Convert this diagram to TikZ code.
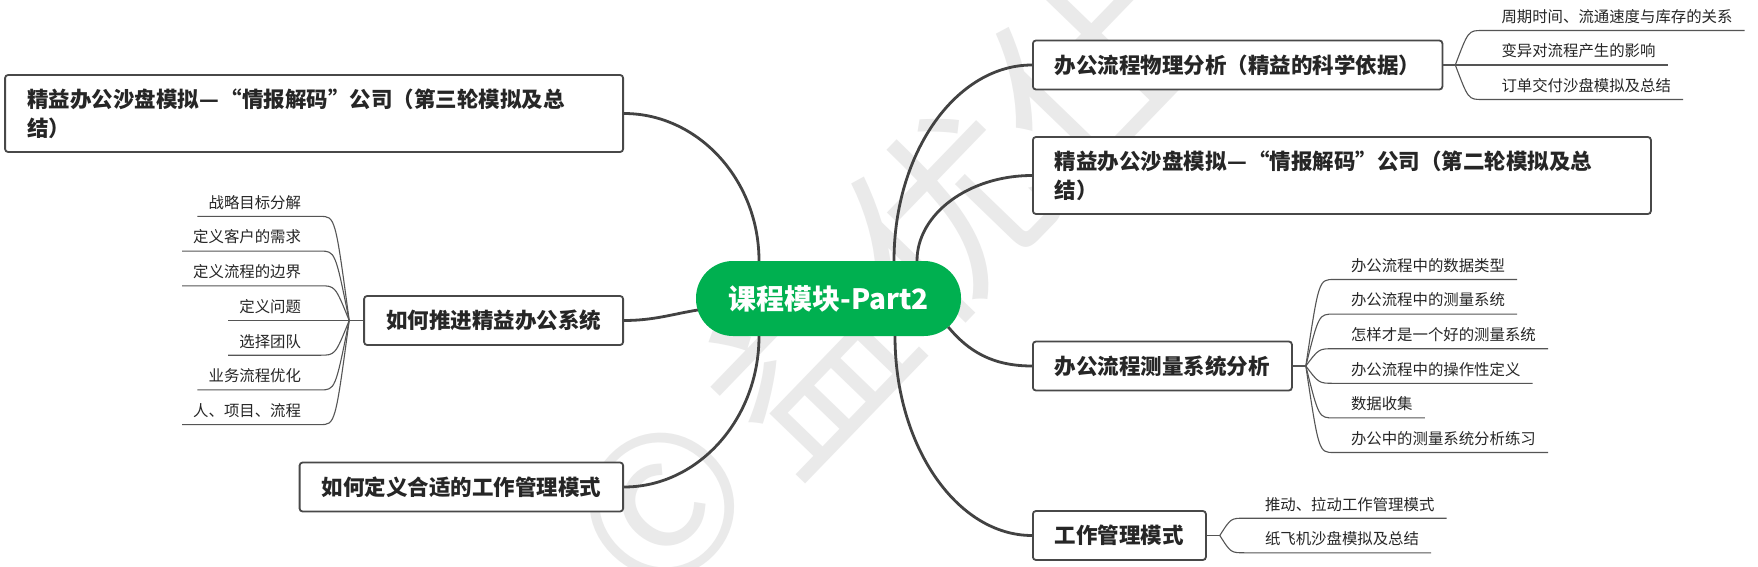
\documentclass[tikz,border=0pt]{standalone}
\usepackage{fontspec}
\usepackage{graphicx}
\setmainfont{Noto Sans CJK SC}
\usetikzlibrary{calc}
\definecolor{green1}{RGB}{0,176,80}
\definecolor{linec}{RGB}{66,66,66}
\definecolor{boxc}{RGB}{72,72,72}
\definecolor{txt}{RGB}{38,38,38}
\definecolor{subc}{RGB}{85,85,85}
\definecolor{wmc}{RGB}{234,234,234}
\newcommand{\wdash}{\makebox[1em]{\resizebox{0.92em}{\height}{—}}}
\begin{document}
\begin{tikzpicture}[x=1pt,y=-1pt,
  box/.style={draw=boxc, line width=1.8pt, rounded corners=3pt, fill=white,
    inner xsep=22pt, inner ysep=0pt, minimum height=49pt,
    font=\fontsize{21.5}{29}\selectfont\bfseries, text=txt, align=left},
  twoline/.style={minimum height=77pt, text width=574pt},
  sub/.style={font=\fontsize{15.4}{18}\selectfont, text=txt, inner xsep=0pt,
    inner ysep=5pt, text height=11pt, text depth=3pt},
  conn/.style={draw=linec, line width=2.8pt},
  subl/.style={draw=subc, line width=1.1pt},
  wmark/.style={text=wmc, rotate=46, inner sep=0pt, font=\fontsize{195}{195}\selectfont},
]
\useasboundingbox (0,0) rectangle (1758,567);
\fill[white] (0,0) rectangle (1758,567);

% watermark
\node[wmark] (w1) at (662,505) {©};
\node[wmark] (w2) at (805,360) {益};
\node[wmark] (w3) at (947,214) {优};
\node[wmark] (w4) at (1088,68) {仕};

% central topic
\node[fill=green1, rounded corners=37pt, minimum width=265pt, minimum height=75pt,
  inner sep=0pt, text=white, font=\fontsize{28}{30}\selectfont\bfseries] (C) at (828.5,298.5) {课程模块-Part2};

% main topics
\node[box, twoline, anchor=east] (L1) at (624,113.5) {精益办公沙盘模拟\wdash“情报解码”公司（第三轮模拟及总\\结）};
\node[box, anchor=east] (L2) at (624,320.5) {如何推进精益办公系统};
\node[box, anchor=east] (L3) at (624,487) {如何定义合适的工作管理模式};
\node[box, anchor=west] (R1) at (1032,65) {办公流程物理分析（精益的科学依据）};
\node[box, twoline, anchor=west] (R2) at (1032,175.5) {精益办公沙盘模拟\wdash“情报解码”公司（第二轮模拟及总\\结）};
\node[box, anchor=west] (R3) at (1032,366) {办公流程测量系统分析};
\node[box, anchor=west] (R4) at (1032,535.5) {工作管理模式};

% main connectors
\draw[conn] ([xshift=-69.5pt]C.north) .. controls +(0,-81) and +(74,0) .. (L1.east);
\draw[conn] ([shift={(2,11.5)}]C.west) .. controls +(-25,4) and +(30,0) .. (L2.east);
\draw[conn] ([xshift=-69.5pt]C.south) .. controls +(0,83) and +(74,0) .. (L3.east);
\draw[conn] ([xshift=65.5pt]C.north) .. controls +(0,-108) and +(-76,0) .. (R1.west);
\draw[conn] ([xshift=88.5pt]C.north) .. controls +(0,-47) and +(-63,0) .. (R2.west);
\draw[conn] ([shift={(-13,28.5)}]C.east) .. controls +(20,24) and +(-40,0) .. (R3.west);
\draw[conn] ([xshift=66.5pt]C.south) .. controls +(0,110) and +(-75,0) .. (R4.west);

% R1 children
\coordinate (R1b) at ([xshift=12pt]R1.east);
\draw[subl] (R1.east) -- (R1b);
\node[sub, anchor=south west] (r11) at ([shift={(27,-34.5)}]R1b) {\hspace*{19pt}周期时间、流通速度与库存的关系\hspace*{12pt}};
\node[sub, anchor=south west] (r12) at ([shift={(27,0)}]R1b) {\hspace*{19pt}变异对流程产生的影响\hspace*{12pt}};
\node[sub, anchor=south west] (r13) at ([shift={(27,34.5)}]R1b) {\hspace*{19pt}订单交付沙盘模拟及总结\hspace*{12pt}};
\foreach \n in {r11,r12,r13}
  \draw[subl] (R1b) .. controls ([xshift=-14pt]\n.south west) .. (\n.south west) -- (\n.south east);

% R3 children
\coordinate (R3b) at ([xshift=13pt]R3.east);
\draw[subl] (R3.east) -- (R3b);
\node[sub, anchor=south west] (r31) at ([shift={(28,-86.5)}]R3b) {\hspace*{17pt}办公流程中的数据类型\hspace*{12pt}};
\node[sub, anchor=south west] (r32) at ([shift={(28,-51.9)}]R3b) {\hspace*{17pt}办公流程中的测量系统\hspace*{12pt}};
\node[sub, anchor=south west] (r33) at ([shift={(28,-17.3)}]R3b) {\hspace*{17pt}怎样才是一个好的测量系统\hspace*{12pt}};
\node[sub, anchor=south west] (r34) at ([shift={(28,17.3)}]R3b) {\hspace*{17pt}办公流程中的操作性定义\hspace*{12pt}};
\node[sub, anchor=south west] (r35) at ([shift={(28,51.9)}]R3b) {\hspace*{17pt}数据收集\hspace*{12pt}};
\node[sub, anchor=south west] (r36) at ([shift={(28,86.5)}]R3b) {\hspace*{17pt}办公中的测量系统分析练习\hspace*{12pt}};
\foreach \n in {r31,r32,r33,r34,r35,r36}
  \draw[subl] (R3b) .. controls ([xshift=-15pt]\n.south west) .. (\n.south west) -- (\n.south east);

% R4 children
\coordinate (R4b) at ([xshift=13pt]R4.east);
\draw[subl] (R4.east) -- (R4b);
\node[sub, anchor=south west] (r41) at ([shift={(25,-17.3)}]R4b) {\hspace*{20pt}推动、拉动工作管理模式\hspace*{12pt}};
\node[sub, anchor=south west] (r42) at ([shift={(25,17.3)}]R4b) {\hspace*{20pt}纸飞机沙盘模拟及总结\hspace*{12pt}};
\foreach \n in {r41,r42}
  \draw[subl] (R4b) .. controls ([xshift=-14pt]\n.south west) .. (\n.south west) -- (\n.south east);

% L2 children
\coordinate (L2b) at ([xshift=-14pt]L2.west);
\draw[subl] (L2.west) -- (L2b);
\node[sub, anchor=south east] (l21) at ([shift={(-29,-104.1)}]L2b) {\hspace*{11pt}战略目标分解\hspace*{19pt}};
\node[sub, anchor=south east] (l22) at ([shift={(-29,-69.4)}]L2b) {\hspace*{11pt}定义客户的需求\hspace*{19pt}};
\node[sub, anchor=south east] (l23) at ([shift={(-29,-34.7)}]L2b) {\hspace*{11pt}定义流程的边界\hspace*{19pt}};
\node[sub, anchor=south east] (l24) at ([shift={(-29,0)}]L2b) {\hspace*{11pt}定义问题\hspace*{19pt}};
\node[sub, anchor=south east] (l25) at ([shift={(-29,34.7)}]L2b) {\hspace*{11pt}选择团队\hspace*{19pt}};
\node[sub, anchor=south east] (l26) at ([shift={(-29,69.4)}]L2b) {\hspace*{11pt}业务流程优化\hspace*{19pt}};
\node[sub, anchor=south east] (l27) at ([shift={(-29,104.1)}]L2b) {\hspace*{11pt}人、项目、流程\hspace*{19pt}};
\foreach \n in {l21,l22,l23,l24,l25,l26,l27}
  \draw[subl] (L2b) .. controls ([xshift=15pt]\n.south east) .. (\n.south east) -- (\n.south west);
\end{tikzpicture}
\end{document}
